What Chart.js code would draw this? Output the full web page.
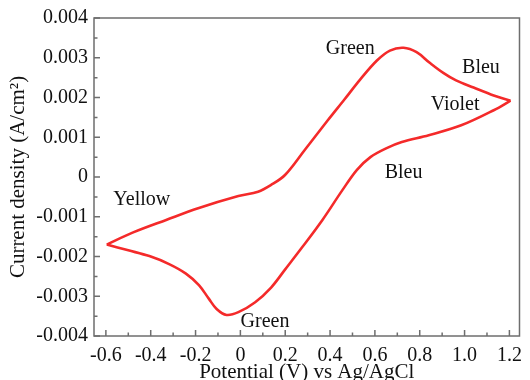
<!DOCTYPE html>
<html>
<head>
<meta charset="utf-8">
<script src="https://cdn.jsdelivr.net/npm/chart.js@4.4.1/dist/chart.umd.min.js"></script>
<style>
  html, body { margin: 0; padding: 0; background: #fff; }
  #wrap { width: 530px; height: 380px; }
</style>
</head>
<body>
<div id="wrap"><canvas id="cv"></canvas></div>
<script>
// sweep from the negative vertex through the reduction peak up to +1.2 V
const sweepOutX = [-0.596, -0.50, -0.406, -0.318, -0.243, -0.185, -0.141, -0.106, -0.062, -0.009, 0.066, 0.137, 0.199, 0.278, 0.366, 0.455, 0.52, 0.58, 0.65, 0.72, 0.84, 0.985, 1.13, 1.205];
const sweepOutY = [-0.00170, -0.001845, -0.00199, -0.00219, -0.00243, -0.00272, -0.00306, -0.00332, -0.00347, -0.00340, -0.00315, -0.00278, -0.00233, -0.00175, -0.00108, -0.00033, 0.00018, 0.00050, 0.00072, 0.00088, 0.00105, 0.00130, 0.00168, 0.00192];

// return sweep through the oxidation peak back to the negative vertex
const sweepBackX = [1.205, 1.13, 1.04, 0.962, 0.905, 0.843, 0.786, 0.728, 0.667, 0.609, 0.534, 0.464, 0.389, 0.287, 0.199, 0.137, 0.079, -0.009, -0.185, -0.331, -0.481, -0.596];
const sweepBackY = [0.00192, 0.00205, 0.00225, 0.00243, 0.00262, 0.00288, 0.00314, 0.00325, 0.00318, 0.00293, 0.00245, 0.00195, 0.00142, 0.00068, 0.00005, -0.00020, -0.00037, -0.00048, -0.00078, -0.00108, -0.00140, -0.00170];

const xTicks = [-0.6, -0.4, -0.2, 0, 0.2, 0.4, 0.6, 0.8, 1.0, 1.2];
const yTicks = [-0.004, -0.003, -0.002, -0.001, 0, 0.001, 0.002, 0.003, 0.004];

const noteText = ["Green", "Bleu", "Violet", "Bleu", "Yellow", "Green"];
const noteX = [0.49, 1.073, 0.958, 0.728, -0.44, 0.11];
const noteY = [0.00322, 0.00275, 0.00182, 0.00010, -0.00057, -0.00365];

const SERIF = '"Liberation Serif", "DejaVu Serif", serif';
const RED = "#f42a2a";

const toPts = (xs, ys) => xs.map((x, i) => ({ x, y: ys[i] }));

// box frame, inward major/minor ticks and the colour notes
const frame = {
  id: "frame",
  afterDatasetsDraw(chart) {
    const { ctx, chartArea: a, scales: { x, y } } = chart;
    ctx.save();
    ctx.strokeStyle = "#6e6e6e";
    ctx.lineWidth = 1.5;
    ctx.strokeRect(a.left, a.top, a.right - a.left, a.bottom - a.top);

    ctx.beginPath();
    xTicks.forEach((v, i) => {
      const px = x.getPixelForValue(v);
      ctx.moveTo(px, a.bottom); ctx.lineTo(px, a.bottom - 6);
      if (i < xTicks.length - 1) {
        const mx = x.getPixelForValue((v + xTicks[i + 1]) / 2);
        ctx.moveTo(mx, a.bottom); ctx.lineTo(mx, a.bottom - 3.5);
      }
    });
    yTicks.forEach((v, i) => {
      const py = y.getPixelForValue(v);
      ctx.moveTo(a.left, py); ctx.lineTo(a.left + 6, py);
      if (i < yTicks.length - 1) {
        const my = y.getPixelForValue((v + yTicks[i + 1]) / 2);
        ctx.moveTo(a.left, my); ctx.lineTo(a.left + 3.5, my);
      }
    });
    ctx.stroke();

    ctx.fillStyle = "#111";
    ctx.font = "20px " + SERIF;
    ctx.textAlign = "center";
    ctx.textBaseline = "middle";
    noteText.forEach((t, i) => {
      ctx.fillText(t, x.getPixelForValue(noteX[i]), y.getPixelForValue(noteY[i]));
    });
    ctx.restore();
  }
};

new Chart(document.getElementById("cv"), {
  type: "scatter",
  data: {
    datasets: [
      { data: toPts(sweepOutX, sweepOutY) },
      { data: toPts(sweepBackX, sweepBackY) }
    ].map(d => Object.assign(d, {
      showLine: true,
      borderColor: RED,
      borderWidth: 2.6,
      pointRadius: 0,
      tension: 0.35,
      fill: false
    }))
  },
  options: {
    responsive: true,
    maintainAspectRatio: false,
    animation: false,
    events: [],
    layout: { padding: { top: 16, right: 4, left: 0, bottom: 0 } },
    plugins: { legend: { display: false }, tooltip: { enabled: false } },
    scales: {
      x: {
        type: "linear",
        min: -0.653,
        max: 1.245,
        afterBuildTicks: s => { s.ticks = xTicks.map(value => ({ value })); },
        afterFit: s => { s.height = 44; },
        grid: { display: false, drawTicks: false },
        border: { display: false },
        ticks: {
          padding: 8,
          color: "#111",
          font: { family: SERIF, size: 20 },
          callback: v => (v === 0 ? "0" : v.toFixed(1))
        },
        title: {
          display: true,
          text: "Potential (V) vs Ag/AgCl",
          color: "#111",
          font: { family: SERIF, size: 21, lineHeight: 1 },
          padding: { top: 0, bottom: -3 }
        }
      },
      y: {
        type: "linear",
        min: -0.004,
        max: 0.004,
        afterBuildTicks: s => { s.ticks = yTicks.map(value => ({ value })); },
        afterFit: s => { s.width = 94; },
        grid: { display: false, drawTicks: false },
        border: { display: false },
        ticks: {
          padding: 6,
          color: "#111",
          font: { family: SERIF, size: 20 },
          callback: v => (v === 0 ? "0" : v.toFixed(3))
        },
        title: {
          display: true,
          text: "Current density (A/cm²)",
          color: "#111",
          font: { family: SERIF, size: 21 },
          padding: { top: 6, bottom: 0 }
        }
      }
    }
  },
  plugins: [frame]
});
</script>
</body>
</html>
